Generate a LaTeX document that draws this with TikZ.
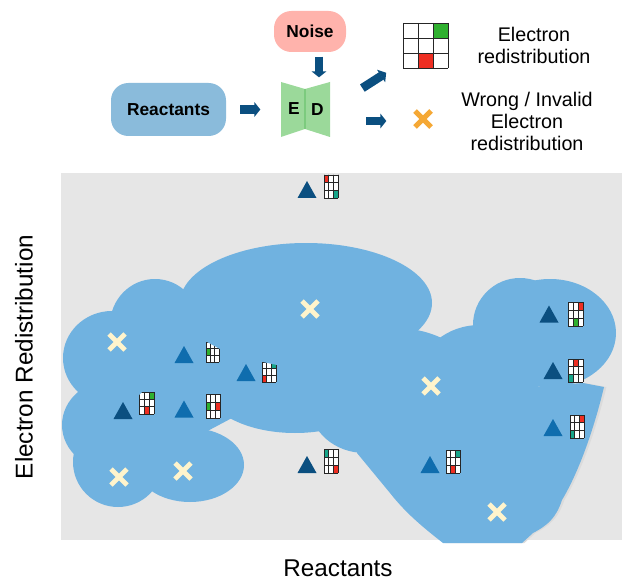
\documentclass[tikz,border=0pt]{standalone}
\usepackage{fontspec}
\setmainfont{Liberation Sans}
\usetikzlibrary{arrows.meta}
\definecolor{panelgray}{HTML}{E6E6E6}
\definecolor{blobblue}{HTML}{70B2E0}
\definecolor{flowblue}{HTML}{0B4F80}
\definecolor{midblue}{HTML}{0F6DAE}
\definecolor{inputblue}{HTML}{8ABBDB}
\definecolor{noisepink}{HTML}{FFB3AC}
\definecolor{edgreen}{HTML}{9BD99A}
\definecolor{edline}{HTML}{7CCB7E}
\definecolor{crossorange}{HTML}{F5A835}
\definecolor{crosscream}{HTML}{FFF4CC}
\definecolor{cellred}{HTML}{EE2E22}
\definecolor{cellgreen}{HTML}{2FB02F}
\definecolor{cellteal}{HTML}{17A589}
\tikzset{
  inbox/.style={rounded corners=13pt, inner sep=0pt, font=\fontsize{13}{15}\selectfont\bfseries},
  flow/.style={flowblue, line width=6.5pt, -{Triangle[length=4.5pt,width=11pt]}},
  cross/.style={line width=3.6pt},
  caption/.style={align=center, font=\fontsize{14.8}{16.5}\selectfont},
  axis/.style={font=\fontsize{18.2}{20}\selectfont}
}
% left, top, width, height, coloured cells
\newcommand{\cellgrid}[5]{
  \begin{scope}[shift={(#1,#2)}, xscale=#3/3, yscale=#4/3]
    \fill[white] (0,0) rectangle (3,3);
    \foreach \c/\r/\col in {#5} \fill[\col] (\c,\r) rectangle ++(1,1);
    \foreach \k in {0,1,2,3} {
      \draw[black!85, line width=0.7pt] (\k,0) -- (\k,3);
      \draw[black!85, line width=0.7pt] (0,\k) -- (3,\k);
    }
  \end{scope}
}
\newcommand{\marktri}[3]{
  \fill[#3] (#1-9.5,#2+8.5) -- (#1,#2-8.5) -- (#1+9.5,#2+8.5) -- cycle;
}
\newcommand{\wedgepath}{(583,383) -- (604,387) .. controls (595,425) and (580,470) .. (562,500)
  .. controls (556,518) and (548,525) .. (533,533) -- (522,543) -- (443,543)
  .. controls (420,525) and (405,512) .. (390,493) -- (357,453) -- (357,400) -- cycle}
\begin{document}
\begin{tikzpicture}[x=0.75pt, y=-0.75pt]
  \useasboundingbox (0,0) rectangle (632,588);
  % legend
  \node[inbox, fill=inputblue, minimum width=86.25pt, minimum height=39.75pt] (reactants) at (168.5,109.5) {Reactants};
  \node[inbox, fill=noisepink, minimum width=54pt, minimum height=30.75pt] (noise) at (310,31.5) {Noise};
  \fill[edgreen] (281,82) -- (305,89) -- (330,82) -- (330,137) -- (305,129) -- (281,137) -- cycle;
  \draw[edline, line width=1.2pt] (305,89) -- (305,129);
  \node[font=\fontsize{13}{15}\selectfont\bfseries] (enc) at (294,108.5) {E};
  \node[font=\fontsize{13}{15}\selectfont\bfseries] (dec) at (317.5,109.5) {D};
  \coordinate (edtop) at (319,82);
  \coordinate (edin) at (281,109.5);
  \coordinate (edup) at (350,96);
  \coordinate (edout) at (356,121);
  \coordinate (noiseout) at (319,52);
  \coordinate (gridin) at (403,62);
  \coordinate (crossin) at (413,121);
  \draw[flow, shorten <=10.5pt, shorten >=15.5pt] (reactants.east) -- (edin);
  \draw[flow, shorten <=3.5pt, shorten >=3.5pt] (noiseout) -- (edtop);
  \draw[flow, shorten <=11pt, shorten >=15pt] (edup) -- (gridin);
  \draw[flow, shorten <=7.5pt, shorten >=20pt] (edout) -- (crossin);
  \cellgrid{403}{23}{45}{45}{2/0/cellgreen,1/2/cellred}
  \draw[crossorange, line width=3.8pt] (415,111) -- (431,127) (431,111) -- (415,127);
  \node[caption] (okcap) at (534,45) {Electron\\redistribution};
  \node[caption] (badcap) at (527,121) {Wrong / Invalid\\Electron\\redistribution};
  % panel
  \fill[panelgray] (61,173) rectangle (622,540);
  \fill[black!14, xshift=1.8pt] \wedgepath;
  \fill[blobblue] (112,358) ellipse (49 and 47);
  \fill[blobblue] (155,325) ellipse (45 and 46);
  \fill[blobblue] (112,425) ellipse (50 and 45);
  \fill[blobblue] (118,462) ellipse (45 and 45);
  \fill[blobblue] (190,465) ellipse (54 and 37);
  \fill[blobblue] (306,303) ellipse (126 and 60);
  \fill[blobblue] (295,385) ellipse (90 and 48);
  \fill[blobblue] (395,385) ellipse (82 and 57);
  \fill[blobblue] (365,405) ellipse (55 and 48);
  \fill[blobblue] (480,375) ellipse (60 and 50);
  \fill[blobblue] (520,325) ellipse (47 and 47);
  \fill[blobblue] (550,333) ellipse (66 and 54);
  \fill[blobblue] (100,340) -- (200,300) -- (300,350) -- (300,400) -- (232,418) -- (200,435) -- (120,440) -- cycle;
  \fill[blobblue] \wedgepath;
  % samples
  \foreach \tx/\ty/\col in {307/189.5/flowblue,123/410.5/flowblue,549/314/flowblue,553/370.5/flowblue,307/464.5/flowblue,
    184/354.5/midblue,184/409/midblue,246/372.5/midblue,553/427.5/midblue,430/464.5/midblue}
    \marktri{\tx}{\ty}{\col}
  \cellgrid{324}{175}{14}{23}{0/0/cellred,2/2/cellteal}
  \cellgrid{206}{342}{13}{20}{0/1/cellgreen}
  \cellgrid{262}{362}{14}{20}{2/0/cellteal,0/2/cellred}
  \cellgrid{139}{392}{15}{22}{2/0/cellgreen,1/2/cellred}
  \cellgrid{206}{394}{14}{24}{0/1/cellgreen,2/1/cellred}
  \cellgrid{568}{302}{15}{24}{2/0/cellred,1/2/cellgreen}
  \cellgrid{568}{359}{15}{23}{1/0/cellred,0/2/cellteal}
  \cellgrid{570}{415}{14}{23}{2/0/cellred,0/2/cellteal}
  \cellgrid{324}{449}{14}{24}{0/0/cellteal,2/2/cellred}
  \cellgrid{446}{450}{14}{23}{2/0/cellteal,1/2/cellred}
  \fill[blobblue] (205,339) -- (207,342) -- (220,349) -- (222,339) -- cycle;
  \fill[blobblue] (262,360) -- (263,362) -- (277,365) -- (277,360) -- cycle;
  \fill[blobblue] (138,390) -- (138,396) -- (143,391) -- (146,390) -- cycle;
  \foreach \mx/\my in {117/342,310/309,431/386,119/477,183/471,497/512}
    \draw[crosscream, cross] (\mx-8,\my-8) -- (\mx+8,\my+8) (\mx+8,\my-8) -- (\mx-8,\my+8);
  % axes
  \node[axis, rotate=90] (ylab) at (24,357) {Electron Redistribution};
  \node[axis] (xlab) at (338,568) {Reactants};
\end{tikzpicture}
\end{document}
